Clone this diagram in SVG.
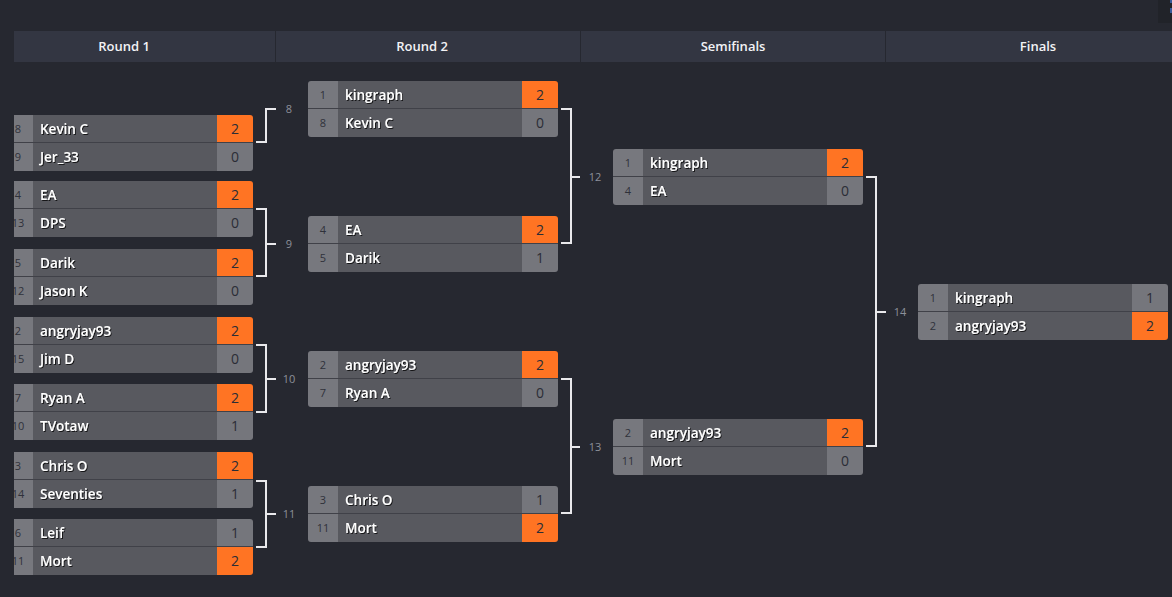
<svg xmlns="http://www.w3.org/2000/svg" width="1172" height="597" viewBox="0 0 1172 597">
<style>
.bg{fill:#262830}
.hdr{fill:#333642}
.ht{font-family:"Open Sans","Liberation Sans",sans-serif;font-size:13px;font-weight:600;fill:#f2f2f5;text-anchor:middle}
.seed{fill:#77787e}
.name{fill:#58595f}
.lose{fill:#75767c}
.win{fill:#ff7423}
.sep{fill:#404148}
.st{font-family:"Open Sans","Liberation Sans",sans-serif;font-size:11px;fill:#2f313a;text-anchor:middle}
.nt{font-family:"Open Sans","Liberation Sans",sans-serif;font-size:13.5px;font-weight:600;fill:#ffffff;filter:url(#sh)}
.sc{font-family:"Open Sans","Liberation Sans",sans-serif;font-size:14px;fill:#2b2d36;text-anchor:middle}
.con{fill:none;stroke:#e9e9ec;stroke-width:2}
.lbl{font-family:"Open Sans","Liberation Sans",sans-serif;font-size:11px;fill:#8d909a;text-anchor:middle}
</style>
<defs>
<filter id="sh" x="-10%" y="-30%" width="130%" height="170%">
<feDropShadow dx="1" dy="1" stdDeviation="0.6" flood-color="#000" flood-opacity="0.75"/>
</filter>
<clipPath id="cb"><rect width="250" height="56" rx="3"/></clipPath>
<clipPath id="cl"><path d="M11,0 H247 A3,3 0 0 1 250,3 V53 A3,3 0 0 1 247,56 H11 Z"/></clipPath>
</defs>
<rect class="bg" width="1172" height="597"/>
<rect x="1158" y="0" width="14" height="23" fill="#212329"/>
<rect x="1170" y="0" width="2" height="3" fill="#3a5a9a"/>
<rect x="1170" y="8" width="2" height="5" fill="#3a5a9a"/>

<g id="headers">
<rect class="hdr" x="14" y="31" width="261" height="31"/>
<rect class="hdr" x="276" y="31" width="304" height="31"/>
<rect class="hdr" x="581" y="31" width="304" height="31"/>
<rect class="hdr" x="886" y="31" width="286" height="31"/>
<text class="ht" x="124" y="51">Round 1</text>
<text class="ht" x="422" y="51">Round 2</text>
<text class="ht" x="733" y="51">Semifinals</text>
<text class="ht" x="1038" y="51">Finals</text>
</g>

<g id="connectors">
<path class="con" d="M256,142 H266 V109 H276"/>
<path class="con" d="M256,209 H266 V276 H256 M266,244 H276"/>
<path class="con" d="M256,345 H266 V412 H256 M266,379 H276"/>
<path class="con" d="M256,481 H266 V547 H256 M266,514 H276"/>
<path class="con" d="M561,109 H571 V243 H561 M571,177 H580"/>
<path class="con" d="M561,379 H571 V513 H561 M571,447 H580"/>
<path class="con" d="M866,177 H876 V446 H866 M876,312 H886"/>
<text class="lbl" x="289" y="113">8</text>
<text class="lbl" x="289" y="248">9</text>
<text class="lbl" x="289" y="383">10</text>
<text class="lbl" x="289" y="518">11</text>
<text class="lbl" x="595" y="181">12</text>
<text class="lbl" x="595" y="451">13</text>
<text class="lbl" x="900" y="316">14</text>
</g>

<!-- Round 1 -->
<g id="r1m1" transform="translate(3,115)"><g clip-path="url(#cl)">
<rect class="seed" width="30" height="56"/><rect class="name" x="30" width="184" height="56"/>
<rect class="win" x="214" width="36" height="27"/><rect class="lose" x="214" y="28" width="36" height="28"/><rect class="sep" y="27" width="250" height="1"/>
<text class="st" x="15" y="18">8</text><text class="st" x="15" y="46">9</text>
</g>
<text class="nt" x="37" y="18.5">Kevin C</text><text class="nt" x="37" y="46.5">Jer_33</text>
<text class="sc" x="232" y="19">2</text><text class="sc" x="232" y="47">0</text>
</g>

<g id="r1m2" transform="translate(3,181)"><g clip-path="url(#cl)">
<rect class="seed" width="30" height="56"/><rect class="name" x="30" width="184" height="56"/>
<rect class="win" x="214" width="36" height="27"/><rect class="lose" x="214" y="28" width="36" height="28"/><rect class="sep" y="27" width="250" height="1"/>
<text class="st" x="15" y="18">4</text><text class="st" x="15" y="46">13</text>
</g>
<text class="nt" x="37" y="18.5">EA</text><text class="nt" x="37" y="46.5">DPS</text>
<text class="sc" x="232" y="19">2</text><text class="sc" x="232" y="47">0</text>
</g>

<g id="r1m3" transform="translate(3,249)"><g clip-path="url(#cl)">
<rect class="seed" width="30" height="56"/><rect class="name" x="30" width="184" height="56"/>
<rect class="win" x="214" width="36" height="27"/><rect class="lose" x="214" y="28" width="36" height="28"/><rect class="sep" y="27" width="250" height="1"/>
<text class="st" x="15" y="18">5</text><text class="st" x="15" y="46">12</text>
</g>
<text class="nt" x="37" y="18.5">Darik</text><text class="nt" x="37" y="46.5">Jason K</text>
<text class="sc" x="232" y="19">2</text><text class="sc" x="232" y="47">0</text>
</g>

<g id="r1m4" transform="translate(3,317)"><g clip-path="url(#cl)">
<rect class="seed" width="30" height="56"/><rect class="name" x="30" width="184" height="56"/>
<rect class="win" x="214" width="36" height="27"/><rect class="lose" x="214" y="28" width="36" height="28"/><rect class="sep" y="27" width="250" height="1"/>
<text class="st" x="15" y="18">2</text><text class="st" x="15" y="46">15</text>
</g>
<text class="nt" x="37" y="18.5">angryjay93</text><text class="nt" x="37" y="46.5">Jim D</text>
<text class="sc" x="232" y="19">2</text><text class="sc" x="232" y="47">0</text>
</g>

<g id="r1m5" transform="translate(3,384)"><g clip-path="url(#cl)">
<rect class="seed" width="30" height="56"/><rect class="name" x="30" width="184" height="56"/>
<rect class="win" x="214" width="36" height="27"/><rect class="lose" x="214" y="28" width="36" height="28"/><rect class="sep" y="27" width="250" height="1"/>
<text class="st" x="15" y="18">7</text><text class="st" x="15" y="46">10</text>
</g>
<text class="nt" x="37" y="18.5">Ryan A</text><text class="nt" x="37" y="46.5">TVotaw</text>
<text class="sc" x="232" y="19">2</text><text class="sc" x="232" y="47">1</text>
</g>

<g id="r1m6" transform="translate(3,452)"><g clip-path="url(#cl)">
<rect class="seed" width="30" height="56"/><rect class="name" x="30" width="184" height="56"/>
<rect class="win" x="214" width="36" height="27"/><rect class="lose" x="214" y="28" width="36" height="28"/><rect class="sep" y="27" width="250" height="1"/>
<text class="st" x="15" y="18">3</text><text class="st" x="15" y="46">14</text>
</g>
<text class="nt" x="37" y="18.5">Chris O</text><text class="nt" x="37" y="46.5">Seventies</text>
<text class="sc" x="232" y="19">2</text><text class="sc" x="232" y="47">1</text>
</g>

<g id="r1m7" transform="translate(3,519)"><g clip-path="url(#cl)">
<rect class="seed" width="30" height="56"/><rect class="name" x="30" width="184" height="56"/>
<rect class="lose" x="214" width="36" height="27"/><rect class="win" x="214" y="28" width="36" height="28"/><rect class="sep" y="27" width="250" height="1"/>
<text class="st" x="15" y="18">6</text><text class="st" x="15" y="46">11</text>
</g>
<text class="nt" x="37" y="18.5">Leif</text><text class="nt" x="37" y="46.5">Mort</text>
<text class="sc" x="232" y="19">1</text><text class="sc" x="232" y="47">2</text>
</g>

<!-- Round 2 -->
<g id="r2m1" transform="translate(308,81)"><g clip-path="url(#cb)">
<rect class="seed" width="30" height="56"/><rect class="name" x="30" width="184" height="56"/>
<rect class="win" x="214" width="36" height="27"/><rect class="lose" x="214" y="28" width="36" height="28"/><rect class="sep" y="27" width="250" height="1"/>
</g>
<text class="st" x="15" y="18">1</text><text class="st" x="15" y="46">8</text>
<text class="nt" x="37" y="18.5">kingraph</text><text class="nt" x="37" y="46.5">Kevin C</text>
<text class="sc" x="232" y="19">2</text><text class="sc" x="232" y="47">0</text>
</g>

<g id="r2m2" transform="translate(308,216)"><g clip-path="url(#cb)">
<rect class="seed" width="30" height="56"/><rect class="name" x="30" width="184" height="56"/>
<rect class="win" x="214" width="36" height="27"/><rect class="lose" x="214" y="28" width="36" height="28"/><rect class="sep" y="27" width="250" height="1"/>
</g>
<text class="st" x="15" y="18">4</text><text class="st" x="15" y="46">5</text>
<text class="nt" x="37" y="18.5">EA</text><text class="nt" x="37" y="46.5">Darik</text>
<text class="sc" x="232" y="19">2</text><text class="sc" x="232" y="47">1</text>
</g>

<g id="r2m3" transform="translate(308,351)"><g clip-path="url(#cb)">
<rect class="seed" width="30" height="56"/><rect class="name" x="30" width="184" height="56"/>
<rect class="win" x="214" width="36" height="27"/><rect class="lose" x="214" y="28" width="36" height="28"/><rect class="sep" y="27" width="250" height="1"/>
</g>
<text class="st" x="15" y="18">2</text><text class="st" x="15" y="46">7</text>
<text class="nt" x="37" y="18.5">angryjay93</text><text class="nt" x="37" y="46.5">Ryan A</text>
<text class="sc" x="232" y="19">2</text><text class="sc" x="232" y="47">0</text>
</g>

<g id="r2m4" transform="translate(308,486)"><g clip-path="url(#cb)">
<rect class="seed" width="30" height="56"/><rect class="name" x="30" width="184" height="56"/>
<rect class="lose" x="214" width="36" height="27"/><rect class="win" x="214" y="28" width="36" height="28"/><rect class="sep" y="27" width="250" height="1"/>
</g>
<text class="st" x="15" y="18">3</text><text class="st" x="15" y="46">11</text>
<text class="nt" x="37" y="18.5">Chris O</text><text class="nt" x="37" y="46.5">Mort</text>
<text class="sc" x="232" y="19">1</text><text class="sc" x="232" y="47">2</text>
</g>

<!-- Semifinals -->
<g id="sf1" transform="translate(613,149)"><g clip-path="url(#cb)">
<rect class="seed" width="30" height="56"/><rect class="name" x="30" width="184" height="56"/>
<rect class="win" x="214" width="36" height="27"/><rect class="lose" x="214" y="28" width="36" height="28"/><rect class="sep" y="27" width="250" height="1"/>
</g>
<text class="st" x="15" y="18">1</text><text class="st" x="15" y="46">4</text>
<text class="nt" x="37" y="18.5">kingraph</text><text class="nt" x="37" y="46.5">EA</text>
<text class="sc" x="232" y="19">2</text><text class="sc" x="232" y="47">0</text>
</g>

<g id="sf2" transform="translate(613,419)"><g clip-path="url(#cb)">
<rect class="seed" width="30" height="56"/><rect class="name" x="30" width="184" height="56"/>
<rect class="win" x="214" width="36" height="27"/><rect class="lose" x="214" y="28" width="36" height="28"/><rect class="sep" y="27" width="250" height="1"/>
</g>
<text class="st" x="15" y="18">2</text><text class="st" x="15" y="46">11</text>
<text class="nt" x="37" y="18.5">angryjay93</text><text class="nt" x="37" y="46.5">Mort</text>
<text class="sc" x="232" y="19">2</text><text class="sc" x="232" y="47">0</text>
</g>

<!-- Finals -->
<g id="final" transform="translate(918,284)"><g clip-path="url(#cb)">
<rect class="seed" width="30" height="56"/><rect class="name" x="30" width="184" height="56"/>
<rect class="lose" x="214" width="36" height="27"/><rect class="win" x="214" y="28" width="36" height="28"/><rect class="sep" y="27" width="250" height="1"/>
</g>
<text class="st" x="15" y="18">1</text><text class="st" x="15" y="46">2</text>
<text class="nt" x="37" y="18.5">kingraph</text><text class="nt" x="37" y="46.5">angryjay93</text>
<text class="sc" x="232" y="19">1</text><text class="sc" x="232" y="47">2</text>
</g>
</svg>
